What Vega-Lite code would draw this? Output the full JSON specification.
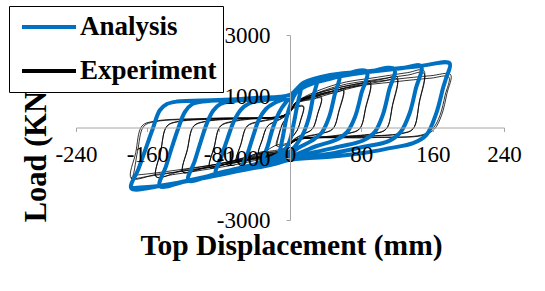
{
"$schema": "https://vega.github.io/schema/vega-lite/v6.json",
"width": 428, "height": 185,
"autosize": {"type": "none"},
"padding": {"left": 76, "top": 35, "right": 41, "bottom": 71},
"background": "white",
"config": {"view": {"stroke": null}, "font": "Liberation Serif"},
"datasets": {
"analysis": [
{"disp":-12,"load":-860},{"disp":-8,"load":-300},{"disp":-4,"load":300},{"disp":0,"load":700},{"disp":5,"load":1050},{"disp":12,"load":1300},
{"disp":8,"load":700},{"disp":4,"load":100},{"disp":0,"load":-400},{"disp":-5,"load":-700},{"disp":-12,"load":-860},
{"disp":-30,"load":-1080},{"disp":-25,"load":-600},{"disp":-19,"load":0},{"disp":-12,"load":500},{"disp":-5,"load":800},{"disp":0,"load":950},{"disp":10,"load":1250},{"disp":20,"load":1420},{"disp":30,"load":1550},
{"disp":26,"load":1000},{"disp":21,"load":300},{"disp":14,"load":-250},{"disp":6,"load":-600},{"disp":0,"load":-780},{"disp":-10,"load":-900},{"disp":-20,"load":-1000},{"disp":-30,"load":-1080},
{"disp":-53,"load":-1300},{"disp":-47,"load":-800},{"disp":-41,"load":-250},{"disp":-35,"load":250},{"disp":-27,"load":600},{"disp":-17,"load":800},{"disp":0,"load":1000},{"disp":15,"load":1300},{"disp":35,"load":1520},{"disp":55,"load":1700},
{"disp":50,"load":1050},{"disp":44,"load":350},{"disp":36,"load":-150},{"disp":25,"load":-420},{"disp":10,"load":-650},{"disp":0,"load":-850},{"disp":-20,"load":-1050},{"disp":-38,"load":-1180},{"disp":-53,"load":-1300},
{"disp":-83,"load":-1500},{"disp":-77,"load":-950},{"disp":-70,"load":-350},{"disp":-63,"load":200},{"disp":-55,"load":580},{"disp":-46,"load":780},{"disp":-33,"load":870},{"disp":0,"load":1040},{"disp":15,"load":1330},{"disp":45,"load":1580},{"disp":86,"load":1820},
{"disp":80,"load":1100},{"disp":73,"load":350},{"disp":64,"load":-150},{"disp":52,"load":-400},{"disp":30,"load":-600},{"disp":0,"load":-950},{"disp":-30,"load":-1150},{"disp":-55,"load":-1300},{"disp":-83,"load":-1500},
{"disp":-114,"load":-1720},{"disp":-107,"load":-1100},{"disp":-100,"load":-450},{"disp":-93,"load":150},{"disp":-86,"load":550},{"disp":-78,"load":760},{"disp":-66,"load":850},{"disp":-35,"load":920},{"disp":0,"load":1050},{"disp":15,"load":1350},{"disp":45,"load":1600},{"disp":85,"load":1790},{"disp":117,"load":1900},
{"disp":111,"load":1200},{"disp":104,"load":400},{"disp":95,"load":-150},{"disp":82,"load":-420},{"disp":55,"load":-620},{"disp":25,"load":-820},{"disp":0,"load":-1000},{"disp":-30,"load":-1200},{"disp":-70,"load":-1430},{"disp":-114,"load":-1720},
{"disp":-146,"load":-1900},{"disp":-139,"load":-1250},{"disp":-132,"load":-600},{"disp":-125,"load":0},{"disp":-118,"load":500},{"disp":-110,"load":750},{"disp":-98,"load":840},{"disp":-60,"load":900},{"disp":-25,"load":970},{"disp":0,"load":1060},{"disp":15,"load":1400},{"disp":45,"load":1650},{"disp":90,"load":1810},{"disp":125,"load":1920},{"disp":147,"load":1990},
{"disp":141,"load":1250},{"disp":134,"load":450},{"disp":124,"load":-150},{"disp":110,"load":-450},{"disp":80,"load":-640},{"disp":45,"load":-850},{"disp":0,"load":-1040},{"disp":-30,"load":-1220},{"disp":-70,"load":-1450},{"disp":-110,"load":-1690},{"disp":-146,"load":-1900},
{"disp":-178,"load":-1970},{"disp":-170,"load":-1350},{"disp":-162,"load":-700},{"disp":-154,"load":-50},{"disp":-146,"load":560},{"disp":-138,"load":760},{"disp":-127,"load":840},{"disp":-80,"load":890},{"disp":-40,"load":960},{"disp":0,"load":1060},{"disp":15,"load":1450},{"disp":45,"load":1700},{"disp":100,"load":1860},{"disp":145,"load":1990},{"disp":179,"load":2080},
{"disp":175,"load":1600},{"disp":172,"load":1320},{"disp":164,"load":460},{"disp":153,"load":-240},{"disp":138,"load":-510},{"disp":112,"load":-670},{"disp":82,"load":-830},{"disp":45,"load":-950},{"disp":0,"load":-1050},{"disp":-20,"load":-1200},{"disp":-52,"load":-1380},{"disp":-108,"load":-1700},{"disp":-146,"load":-1890},{"disp":-178,"load":-1970}
],
"experiment": [
{"disp":-15,"load":-600},{"disp":-12,"load":-200},{"disp":-8,"load":150},{"disp":-3,"load":350},{"disp":0,"load":500},{"disp":4,"load":650},{"disp":15,"load":700},
{"disp":12,"load":250},{"disp":8,"load":-100},{"disp":3,"load":-300},{"disp":0,"load":-450},{"disp":-4,"load":-550},{"disp":-15,"load":-600},
{"disp":-12,"load":-180},{"disp":-8,"load":140},{"disp":-3,"load":330},{"disp":0,"load":480},{"disp":4,"load":620},{"disp":15,"load":670},
{"disp":12,"load":230},{"disp":8,"load":-90},{"disp":3,"load":-280},{"disp":0,"load":-430},{"disp":-4,"load":-520},{"disp":-15,"load":-570},
{"disp":-35,"load":-850},{"disp":-31,"load":-400},{"disp":-25,"load":50},{"disp":-15,"load":220},{"disp":-8,"load":330},{"disp":0,"load":550},{"disp":6,"load":800},{"disp":12,"load":880},{"disp":23,"load":950},{"disp":35,"load":1000},
{"disp":31,"load":450},{"disp":25,"load":-50},{"disp":15,"load":-220},{"disp":8,"load":-330},{"disp":0,"load":-500},{"disp":-6,"load":-700},{"disp":-12,"load":-760},{"disp":-23,"load":-810},{"disp":-35,"load":-850},
{"disp":-31,"load":-380},{"disp":-25,"load":50},{"disp":-15,"load":210},{"disp":-8,"load":310},{"disp":0,"load":520},{"disp":6,"load":760},{"disp":12,"load":840},{"disp":23,"load":900},{"disp":35,"load":950},
{"disp":31,"load":430},{"disp":25,"load":-50},{"disp":15,"load":-210},{"disp":8,"load":-310},{"disp":0,"load":-480},{"disp":-6,"load":-660},{"disp":-12,"load":-720},{"disp":-23,"load":-770},{"disp":-35,"load":-810},
{"disp":-60,"load":-1100},{"disp":-55,"load":-550},{"disp":-48,"load":50},{"disp":-35,"load":200},{"disp":-20,"load":280},{"disp":-8,"load":380},{"disp":0,"load":550},{"disp":8,"load":850},{"disp":21,"load":1000},{"disp":39,"load":1130},{"disp":53,"load":1200},{"disp":60,"load":1250},
{"disp":55,"load":560},{"disp":48,"load":-50},{"disp":35,"load":-200},{"disp":20,"load":-290},{"disp":8,"load":-400},{"disp":0,"load":-550},{"disp":-8,"load":-800},{"disp":-21,"load":-900},{"disp":-39,"load":-1000},{"disp":-53,"load":-1060},{"disp":-60,"load":-1100},
{"disp":-55,"load":-520},{"disp":-48,"load":40},{"disp":-35,"load":180},{"disp":-20,"load":260},{"disp":-8,"load":360},{"disp":0,"load":520},{"disp":8,"load":800},{"disp":21,"load":950},{"disp":39,"load":1080},{"disp":53,"load":1150},{"disp":60,"load":1190},
{"disp":55,"load":530},{"disp":48,"load":-40},{"disp":35,"load":-190},{"disp":20,"load":-270},{"disp":8,"load":-380},{"disp":0,"load":-520},{"disp":-8,"load":-760},{"disp":-21,"load":-860},{"disp":-39,"load":-960},{"disp":-53,"load":-1010},{"disp":-60,"load":-1050},
{"disp":-90,"load":-1300},{"disp":-85,"load":-650},{"disp":-78,"load":50},{"disp":-65,"load":200},{"disp":-45,"load":290},{"disp":-8,"load":380},{"disp":0,"load":550},{"disp":8,"load":850},{"disp":32,"load":1030},{"disp":58,"load":1260},{"disp":79,"load":1410},{"disp":90,"load":1480},
{"disp":85,"load":670},{"disp":78,"load":-50},{"disp":65,"load":-200},{"disp":45,"load":-300},{"disp":8,"load":-400},{"disp":0,"load":-550},{"disp":-8,"load":-800},{"disp":-32,"load":-850},{"disp":-58,"load":-1080},{"disp":-79,"load":-1230},{"disp":-90,"load":-1300},
{"disp":-85,"load":-620},{"disp":-78,"load":40},{"disp":-65,"load":180},{"disp":-45,"load":270},{"disp":-8,"load":360},{"disp":0,"load":520},{"disp":8,"load":800},{"disp":32,"load":980},{"disp":58,"load":1200},{"disp":79,"load":1350},{"disp":90,"load":1410},
{"disp":85,"load":640},{"disp":78,"load":-40},{"disp":65,"load":-190},{"disp":45,"load":-280},{"disp":8,"load":-380},{"disp":0,"load":-520},{"disp":-8,"load":-760},{"disp":-32,"load":-820},{"disp":-58,"load":-1030},{"disp":-79,"load":-1170},{"disp":-90,"load":-1240},
{"disp":-120,"load":-1450},{"disp":-115,"load":-720},{"disp":-108,"load":50},{"disp":-95,"load":200},{"disp":-60,"load":300},{"disp":-8,"load":380},{"disp":0,"load":550},{"disp":8,"load":850},{"disp":42,"load":1200},{"disp":78,"load":1430},{"disp":106,"load":1580},{"disp":120,"load":1650},
{"disp":115,"load":740},{"disp":108,"load":-50},{"disp":95,"load":-200},{"disp":60,"load":-300},{"disp":8,"load":-400},{"disp":0,"load":-550},{"disp":-8,"load":-800},{"disp":-42,"load":-1000},{"disp":-78,"load":-1230},{"disp":-106,"load":-1380},{"disp":-120,"load":-1450},
{"disp":-115,"load":-690},{"disp":-108,"load":40},{"disp":-95,"load":190},{"disp":-60,"load":280},{"disp":-8,"load":360},{"disp":0,"load":520},{"disp":8,"load":800},{"disp":42,"load":1140},{"disp":78,"load":1370},{"disp":106,"load":1510},{"disp":120,"load":1580},
{"disp":115,"load":710},{"disp":108,"load":-40},{"disp":95,"load":-190},{"disp":60,"load":-290},{"disp":8,"load":-380},{"disp":0,"load":-520},{"disp":-8,"load":-760},{"disp":-42,"load":-950},{"disp":-78,"load":-1170},{"disp":-106,"load":-1310},{"disp":-120,"load":-1380},
{"disp":-150,"load":-1600},{"disp":-145,"load":-800},{"disp":-138,"load":50},{"disp":-125,"load":200},{"disp":-75,"load":300},{"disp":-8,"load":380},{"disp":0,"load":550},{"disp":8,"load":850},{"disp":52,"load":1400},{"disp":98,"load":1630},{"disp":132,"load":1780},{"disp":150,"load":1850},
{"disp":145,"load":830},{"disp":138,"load":-50},{"disp":125,"load":-200},{"disp":75,"load":-300},{"disp":8,"load":-400},{"disp":0,"load":-550},{"disp":-8,"load":-800},{"disp":-52,"load":-1150},{"disp":-98,"load":-1380},{"disp":-132,"load":-1530},{"disp":-150,"load":-1600},
{"disp":-145,"load":-760},{"disp":-138,"load":40},{"disp":-125,"load":190},{"disp":-75,"load":280},{"disp":-8,"load":360},{"disp":0,"load":520},{"disp":8,"load":800},{"disp":52,"load":1330},{"disp":98,"load":1560},{"disp":132,"load":1700},{"disp":150,"load":1770},
{"disp":145,"load":800},{"disp":138,"load":-40},{"disp":125,"load":-190},{"disp":75,"load":-290},{"disp":8,"load":-380},{"disp":0,"load":-520},{"disp":-8,"load":-760},{"disp":-52,"load":-1090},{"disp":-98,"load":-1320},{"disp":-132,"load":-1460},{"disp":-150,"load":-1520},
{"disp":-178,"load":-1650},{"disp":-173,"load":-820},{"disp":-166,"load":50},{"disp":-153,"load":200},{"disp":-90,"load":300},{"disp":-8,"load":380},{"disp":0,"load":550},{"disp":8,"load":850},{"disp":63,"load":1350},{"disp":117,"load":1560},{"disp":158,"load":1680},{"disp":180,"load":1720},
{"disp":176,"load":1100},{"disp":170,"load":400},{"disp":162,"load":-50},{"disp":150,"load":-250},{"disp":90,"load":-330},{"disp":8,"load":-400},{"disp":0,"load":-550},{"disp":-8,"load":-800},{"disp":-63,"load":-1150},{"disp":-117,"load":-1400},{"disp":-158,"load":-1580},{"disp":-178,"load":-1650},
{"disp":-176,"load":-1550},{"disp":-171,"load":-780},{"disp":-164,"load":40},{"disp":-151,"load":190},{"disp":-90,"load":280},{"disp":-8,"load":360},{"disp":0,"load":520},{"disp":8,"load":800},{"disp":63,"load":1280},{"disp":117,"load":1480},{"disp":158,"load":1600},{"disp":178,"load":1640},
{"disp":174,"load":1050},{"disp":168,"load":380},{"disp":160,"load":-40},{"disp":148,"load":-240},{"disp":90,"load":-320},{"disp":8,"load":-380},{"disp":0,"load":-520},{"disp":-8,"load":-760},{"disp":-63,"load":-1100},{"disp":-117,"load":-1340},{"disp":-158,"load":-1500},{"disp":-176,"load":-1550}
]
},
"encoding": {
"x": {"field": "disp", "type": "quantitative",
"scale": {"domain": [-240, 240], "nice": false, "zero": false},
"axis": {"orient": "bottom", "offset": -92.5, "values": [-240, -160, -80, 0, 80, 160, 240], "grid": false, "zindex": 1,
"labelExpr": "datum.value < 0 ? '-' + abs(datum.value) : '' + datum.value",
"domainColor": "#a6a6a6", "tickColor": "#a6a6a6", "tickSize": 4, "labelFont": "Liberation Serif", "labelFontSize": 23, "labelColor": "black",
"labelBaseline": "alphabetic", "labelPadding": 30, "labelFlush": false, "labelOverlap": false,
"title": "Top Displacement (mm)", "titleFont": "Liberation Serif", "titleFontSize": 29.5, "titleFontWeight": "bold", "titleColor": "black",
"titleBaseline": "alphabetic", "titleX": 215, "titleY": 126.5}},
"y": {"field": "load", "type": "quantitative",
"scale": {"domain": [-3000, 3000], "nice": false, "zero": false},
"axis": {"orient": "left", "offset": -214, "values": [-3000, -1000, 1000, 3000], "grid": false, "zindex": 1,
"labelExpr": "datum.value < 0 ? '-' + abs(datum.value) : '' + datum.value",
"domainColor": "#a6a6a6", "tickColor": "#a6a6a6", "tickSize": 4, "labelFont": "Liberation Serif", "labelFontSize": 23, "labelColor": "black",
"labelPadding": 16, "labelFlush": false, "labelOverlap": false,
"title": "Load (KN)", "titleFont": "Liberation Serif", "titleFontSize": 30.5, "titleFontWeight": "bold", "titleColor": "black",
"titleBaseline": "alphabetic", "titleAngle": -90, "titleX": -245, "titleY": 116}}
},
"layer": [
{
"data": {"values": [{}]},
"mark": {"type": "rule", "color": "#c4c4c4", "strokeWidth": 1},
"encoding": {
"x": {"datum": -317, "type": "quantitative"},
"y": {"datum": 3973, "type": "quantitative"},
"y2": {"datum": -9000}
}
},
{
"data": {"values": [{}]},
"mark": {"type": "rule", "color": "#c4c4c4", "strokeWidth": 1},
"encoding": {
"x": {"datum": -317, "type": "quantitative"},
"x2": {"datum": 400},
"y": {"datum": 3973, "type": "quantitative"}
}
},
{
"data": {"name": "experiment"},
"mark": {"type": "line", "strokeWidth": 0.8, "interpolate": "catmull-rom", "strokeJoin": "round"},
"encoding": {
"order": {"value": null},
"color": {"datum": "Experiment", "type": "nominal"}
}
},
{
"data": {"name": "analysis"},
"mark": {"type": "line", "strokeWidth": 4, "interpolate": "catmull-rom", "strokeJoin": "round", "strokeCap": "round"},
"encoding": {
"order": {"value": null},
"color": {"datum": "Analysis", "type": "nominal",
"scale": {"domain": ["Analysis", "Experiment"], "range": ["#0070C0", "#000000"]},
"legend": {"orient": "none", "legendX": -67, "legendY": -29, "title": null, "symbolType": "stroke", "symbolSize": 2916, "symbolStrokeWidth": 4,
"clipHeight": 30, "rowPadding": 14, "padding": 6, "symbolOffset": 5, "labelOffset": 2, "labelFont": "Liberation Serif", "labelFontSize": 27,
"labelFontWeight": "bold", "labelColor": "black", "labelLimit": 300, "strokeColor": "black", "fillColor": "white", "zindex": 2}}
}
}
]
}
